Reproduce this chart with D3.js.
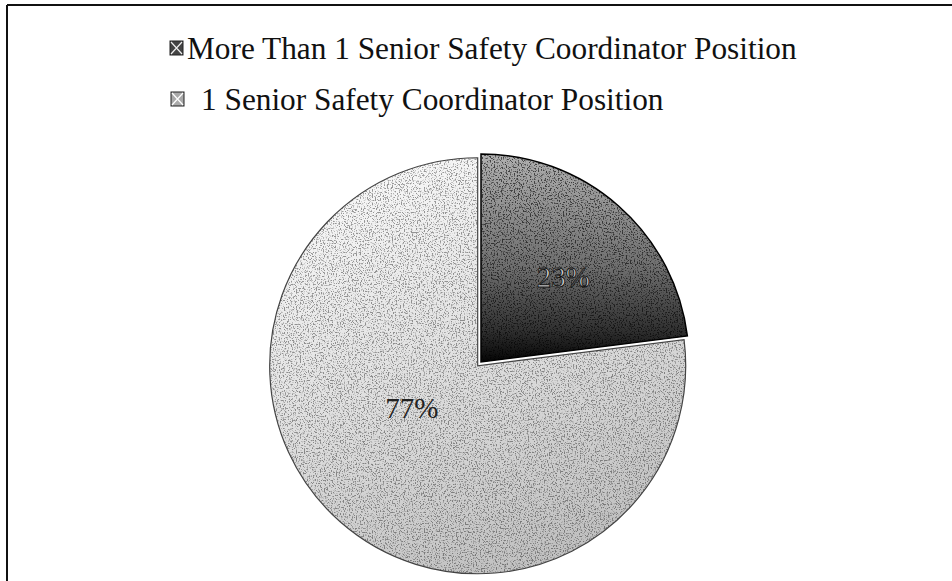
<!DOCTYPE html>
<html><head><meta charset="utf-8">
<script src="https://cdn.jsdelivr.net/npm/d3@7"></script>
<style>html,body{margin:0;padding:0;background:#fff}svg{display:block}</style>
</head><body>
<svg id="chart" width="952" height="581"></svg>
<script>
const categories = ["More Than 1 Senior Safety Coordinator Position", "1 Senior Safety Coordinator Position"];
const values = [23, 77];
const labels = ["23%", "77%"];

const svg = d3.select("#chart");
const W = 952, H = 581;
const defs = svg.append("defs");

// gradients
const g1 = defs.append("linearGradient").attr("id","gDark").attr("x1","0").attr("y1","0").attr("x2","0").attr("y2","1");
g1.append("stop").attr("offset","0%").attr("stop-color","#b0b0b0");
g1.append("stop").attr("offset","55%").attr("stop-color","#6e6e6e");
g1.append("stop").attr("offset","85%").attr("stop-color","#303030");
g1.append("stop").attr("offset","100%").attr("stop-color","#050505");
const g2 = defs.append("linearGradient").attr("id","gLight").attr("x1","0.2").attr("y1","0").attr("x2","0.6").attr("y2","1");
g2.append("stop").attr("offset","0%").attr("stop-color","#fafafa");
g2.append("stop").attr("offset","50%").attr("stop-color","#e0e0e0");
g2.append("stop").attr("offset","100%").attr("stop-color","#c0c0c0");

// speckle filter
const f = defs.append("filter").attr("id","speck").attr("x","0").attr("y","0").attr("width","1").attr("height","1");
f.append("feTurbulence").attr("type","fractalNoise").attr("baseFrequency","0.75").attr("numOctaves","2").attr("seed","3").attr("result","n");
f.append("feColorMatrix").attr("in","n").attr("type","matrix")
  .attr("values","0 0 0 0 0  0 0 0 0 0  0 0 0 0 0  -6 0 0 0 2.9").attr("result","a");
f.append("feComposite").attr("in","a").attr("in2","SourceGraphic").attr("operator","in");

// frame
svg.append("line").attr("x1",7).attr("y1",5).attr("x2",W).attr("y2",5).attr("stroke","#111").attr("stroke-width",2);
svg.append("line").attr("x1",7).attr("y1",5).attr("x2",7).attr("y2",H).attr("stroke","#111").attr("stroke-width",2);

// legend
const leg = svg.append("g").attr("font-family","'Liberation Serif', 'Times New Roman', serif").attr("fill","#111");
const legY = [59, 110];
const legTextX = [187, 201];
const legBoxX = [170, 171];
const t0 = leg.append("text").attr("x", legTextX[0]).attr("y", legY[0]).attr("font-size", 29).text(categories[0]);
let fs = 29 * 610 / t0.node().getComputedTextLength();
t0.attr("font-size", fs);
leg.append("text").attr("x", legTextX[1]).attr("y", legY[1]).attr("font-size", fs).text(categories[1]);
categories.forEach((c,i)=>{
  leg.append("rect").attr("x",legBoxX[i]).attr("y",legY[i]-18).attr("width",13).attr("height",14)
    .attr("fill", i===0 ? "#444" : "#aaa").attr("stroke","#222").attr("stroke-width",1);
  leg.append("path").attr("d",`M${legBoxX[i]+1},${legY[i]-17}L${legBoxX[i]+12},${legY[i]-5}M${legBoxX[i]+12},${legY[i]-17}L${legBoxX[i]+1},${legY[i]-5}`)
    .attr("stroke", i===0 ? "#eee" : "#fff").attr("stroke-width",1.2);
});

// pie
const cx = 481, cy = 362, R = 208;
const pie = d3.pie().sort(null).value(d=>d)(values);
const arc = d3.arc().innerRadius(0).outerRadius(R);
const explode = [0, 5];
const fills = ["url(#gDark)", "url(#gLight)"];
const strokes = ["#000", "#444"];
const speckOpacity = [0.6, 0.38];
const pg = svg.append("g").attr("transform",`translate(${cx},${cy})`);
pie.forEach((d,i)=>{
  const [mx,my] = d3.arc().innerRadius(0).outerRadius(1).centroid(d);
  const len = Math.hypot(mx,my);
  const dx = mx/len*explode[i], dy = my/len*explode[i];
  const s = pg.append("g").attr("transform",`translate(${dx},${dy})`);
  s.append("path").attr("d",arc(d)).attr("fill",fills[i]);
  s.append("path").attr("d",arc(d)).attr("fill","#000").attr("opacity", speckOpacity[i]).attr("filter","url(#speck)");
  s.append("path").attr("d",arc(d)).attr("fill","none").attr("stroke",strokes[i]).attr("stroke-width", i===0?1.5:1.2);
});
// labels
const labelR = [0.57*R, 0.46*R];
const labelNudge = [[4, 4], [-6, -26]];
pie.forEach((d,i)=>{
  const la = d3.arc().innerRadius(labelR[i]).outerRadius(labelR[i]);
  const [lx,ly] = la.centroid(d);
  pg.append("text").attr("x",lx + labelNudge[i][0]).attr("y",ly + labelNudge[i][1]).attr("dy","0.35em")
    .attr("text-anchor","middle").attr("font-family","'Liberation Serif', 'Times New Roman', serif")
    .attr("font-size",29)
    .attr("fill", i===0 ? "#d0d0d0" : "#222")
    .attr("stroke", i===0 ? "#111" : "none").attr("stroke-width", 0.9)
    .text(labels[i]);
});
</script>
</body></html>
